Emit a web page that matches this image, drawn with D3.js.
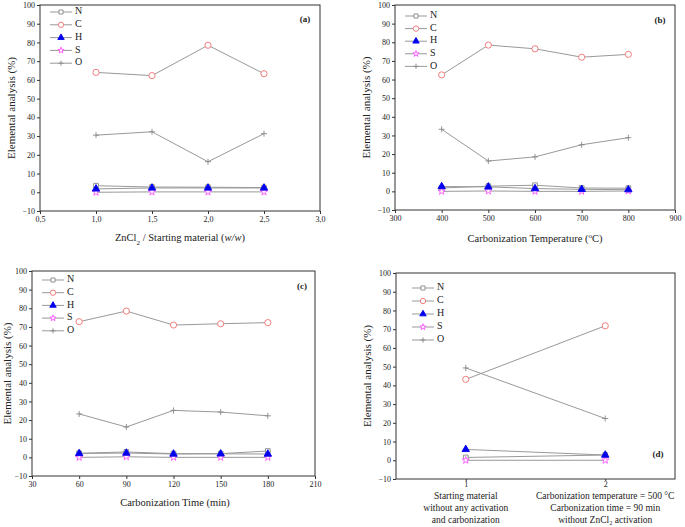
<!DOCTYPE html>
<html><head><meta charset="utf-8">
<script src="https://cdn.jsdelivr.net/npm/d3@7"></script>
<style>body{margin:0;background:#fff}svg{display:block}text{font-family:"Liberation Serif","DejaVu Serif",serif;fill:#222}</style>
</head><body><svg id="c" width="685" height="527"></svg>
<script>
const elements = ["N","C","H","S","O"];
const yTicks = [-10,0,10,20,30,40,50,60,70,80,90,100];

// (a)
const xA = [1.0,1.5,2.0,2.5];
const aN = [3.5,2.8,2.7,2.5];
const aC = [64.0,62.3,78.5,63.3];
const aH = [1.8,2.3,2.3,2.3];
const aS = [0.0,0.2,0.2,0.2];
const aO = [30.5,32.3,16.3,31.3];
const xTicksA = [0.5,1.0,1.5,2.0,2.5,3.0];
const xTickLabelsA = ["0,5","1,0","1,5","2,0","2,5","3,0"];

// (b)
const xB = [400,500,600,700,800];
const bN = [1.8,2.8,3.3,1.8,1.7];
const bC = [62.5,78.5,76.5,72.0,73.5];
const bH = [2.6,2.4,1.5,1.1,0.9];
const bS = [0.0,0.2,0.0,0.0,0.2];
const bO = [33.3,16.3,18.5,25.0,28.8];
const xTicksB = [300,400,500,600,700,800,900];

// (c)
const xC = [60,90,120,150,180];
const cN = [2.2,2.9,2.0,2.0,3.4];
const cC = [72.8,78.5,71.0,71.7,72.3];
const cH = [2.1,2.3,1.8,1.9,1.8];
const cS = [0.0,0.3,0.0,0.0,0.0];
const cO = [23.3,16.3,25.2,24.3,22.3];
const xTicksC = [30,60,90,120,150,180,210];

// (d)
const xD = [1,2];
const dN = [1.5,2.8];
const dC = [43.2,71.8];
const dH = [5.8,2.8];
const dS = [0.0,0.0];
const dO = [49.3,22.3];
const xTicksD = [1,2];
const dCatLabels = [
  ["Starting material","without any activation","and carbonization"],
  ["Carbonization temperature = 500 °C","Carbonization time = 90 min","without ZnCl₂ activation"]
];

const svg = d3.select("#c");
const lineCol = "#999";
const styles = {
  N:{stroke:"#888", fill:"#fff", shape:"square"},
  C:{stroke:"#f07070", fill:"#fff", shape:"circle"},
  H:{stroke:"#0000ee", fill:"#0000ee", shape:"triangle"},
  S:{stroke:"#ff55ff", fill:"#fff", shape:"star"},
  O:{stroke:"#888", fill:"none", shape:"plus"}
};

function marker(g, el, x, y, k){
  k = k || 1;
  const s = styles[el];
  let sym;
  if (s.shape==="square") sym = d3.symbol(d3.symbolSquare, 22*k);
  else if (s.shape==="circle") sym = d3.symbol(d3.symbolCircle, 30*k);
  else if (s.shape==="triangle") sym = d3.symbol(d3.symbolTriangle, 24*k);
  else if (s.shape==="star") sym = d3.symbol(d3.symbolStar, 16*k);
  if (s.shape==="plus"){
    const r = 3*Math.sqrt(k);
    g.append("path").attr("d",`M${x-r},${y}H${x+r}M${x},${y-r}V${y+r}`)
      .attr("stroke",s.stroke).attr("stroke-width",0.9).attr("fill","none");
  } else {
    g.append("path").attr("d",sym()).attr("transform",`translate(${x},${y})`)
      .attr("fill",s.fill).attr("stroke",s.stroke).attr("stroke-width",0.9);
  }
}

function panel(o){
  const g = svg.append("g");
  const x = d3.scaleLinear().domain(o.xDomain).range([o.left,o.right]);
  const y = d3.scaleLinear().domain([-10,100]).range([o.bottom,o.top]);
  g.append("rect").attr("x",o.left).attr("y",o.top).attr("width",o.right-o.left).attr("height",o.bottom-o.top)
    .attr("fill","none").attr("stroke","#333").attr("stroke-width",1);
  const ya = d3.axisLeft(y).tickValues(yTicks).tickSize(3).tickPadding(2);
  const yg = g.append("g").attr("transform",`translate(${o.left},0)`).call(ya);
  yg.select(".domain").remove();
  yg.selectAll("text").style("font-size","8px");
  const xa = d3.axisBottom(x).tickValues(o.xTicks).tickSize(o.xTickSize||3).tickPadding(o.xTickPad==null?2:o.xTickPad)
    .tickFormat((d,i)=> o.xLabels ? o.xLabels[i] : d);
  const xg = g.append("g").attr("transform",`translate(0,${o.bottom})`).call(xa);
  xg.select(".domain").remove();
  xg.selectAll("text").style("font-size","8px");
  g.selectAll(".tick line").attr("stroke","#333");
  g.append("text").attr("transform",`translate(${o.ylabX},${(o.top+o.bottom)/2}) rotate(-90)`)
    .attr("text-anchor","middle").attr("dominant-baseline","middle").style("font-size","11px").text("Elemental analysis (%)");
  const line = d3.line().x(d=>x(d[0])).y(d=>y(d[1]));
  ["O","S","H","C","N"].forEach(el=>{
    const pts = o.xs.map((v,i)=>[v,o.data[el][i]]);
    g.append("path").attr("d",line(pts)).attr("fill","none").attr("stroke",lineCol).attr("stroke-width",1);
  });
  ["O","N","S","H","C"].forEach(el=>{
    o.xs.forEach((v,i)=>marker(g, el, x(v), y(o.data[el][i])));
  });
  elements.forEach((el,i)=>{
    const ly = o.legY[0] + i*o.legDy;
    g.append("line").attr("x1",o.legX).attr("x2",o.legX+22).attr("y1",ly).attr("y2",ly).attr("stroke",lineCol).attr("stroke-width",1);
    marker(g, el, o.legX+11, ly, 0.75);
    g.append("text").attr("x",o.legX+25).attr("y",ly).attr("dominant-baseline","middle").style("font-size","10px").text(el);
  });
  g.append("text").attr("x",o.tagX).attr("y",o.tagY).attr("text-anchor","middle").attr("dominant-baseline","middle")
    .style("font-size","9px").style("font-weight","bold").text(o.tag);
  return {g,x,y};
}

// (a)
const pa = panel({left:40,right:320,top:5,bottom:211,xDomain:[0.5,3.0],xTicks:xTicksA,xLabels:xTickLabelsA,
  xs:xA,data:{N:aN,C:aC,H:aH,S:aS,O:aO},legX:50,legY:[12],legDy:12.8,tag:"(a)",tagX:305,tagY:20,ylabX:12});
const ta = pa.g.append("text").attr("x",180).attr("y",241).attr("text-anchor","middle").style("font-size","10.5px");
ta.append("tspan").text("ZnCl");
ta.append("tspan").attr("baseline-shift","sub").style("font-size","7px").text("2");
ta.append("tspan").text(" / Starting material (");
ta.append("tspan").style("font-style","italic").text("w/w");
ta.append("tspan").text(")");

// (b)
const pb = panel({left:395,right:675,top:5,bottom:210,xDomain:[300,900],xTicks:xTicksB,
  xs:xB,data:{N:bN,C:bC,H:bH,S:bS,O:bO},legX:405,legY:[16],legDy:12.6,tag:"(b)",tagX:660,tagY:21,ylabX:367});
const tb = pb.g.append("text").attr("x",535).attr("y",242).attr("text-anchor","middle").style("font-size","10.5px");
tb.append("tspan").text("Carbonization Temperature (");
tb.append("tspan").attr("baseline-shift","super").style("font-size","7px").text("o");
tb.append("tspan").text("C)");

// (c)
const pc = panel({left:32,right:315,top:271,bottom:476,xDomain:[30,210],xTicks:xTicksC,
  xs:xC,data:{N:cN,C:cC,H:cH,S:cS,O:cO},legX:42,legY:[280],legDy:12.7,tag:"(c)",tagX:302,tagY:287,ylabX:8});
pc.g.append("text").attr("x",175).attr("y",506).attr("text-anchor","middle").style("font-size","10.5px").text("Carbonization Time (min)");

// (d)
const pd = panel({left:396,right:675,top:273,bottom:479,xDomain:[0.5,2.5],xTicks:xTicksD,xTickSize:2,xTickPad:0,
  xs:xD,data:{N:dN,C:dC,H:dH,S:dS,O:dO},legX:412,legY:[288],legDy:13,tag:"(d)",tagX:658,tagY:455,ylabX:368});
dCatLabels.forEach((lines,i)=>{
  lines.forEach((t,j)=>{
    pd.g.append("text").attr("x",pd.x(xD[i])).attr("y",499+j*12).attr("text-anchor","middle").style("font-size","9.5px").text(t);
  });
});
</script></body></html>
